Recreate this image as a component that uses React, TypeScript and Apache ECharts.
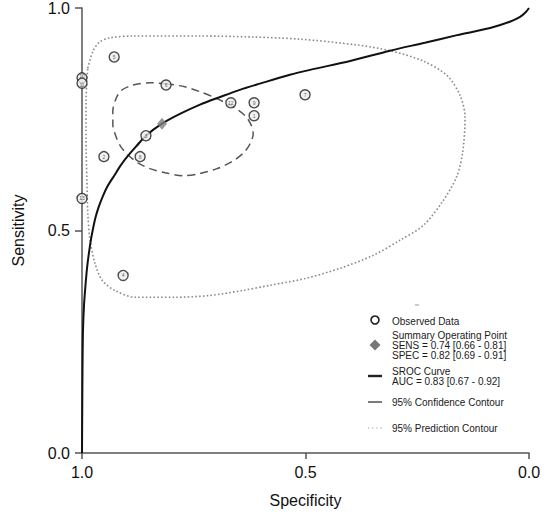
import React, { useEffect, useRef } from "react";
import * as echarts from "echarts";

// Observed study data: [specificity, sensitivity, study label]
const studySpec = [1.0, 1.0, 1.0, 0.928, 0.812, 0.951, 0.87, 0.857, 0.908, 0.667, 0.615, 0.615, 0.501];
const studySens = [0.843, 0.831, 0.572, 0.89, 0.827, 0.666, 0.666, 0.713, 0.399, 0.787, 0.787, 0.758, 0.805];
const studyLabels = ["10", "11", "13", "5", "6", "2", "8", "3", "4", "12", "9", "1", "7"];

// Summary operating point
const summarySpec = 0.821;
const summarySens = 0.74;

// SROC curve
const srocSpec = [1.0, 0.9996, 0.9989, 0.9978, 0.9955, 0.9922, 0.9888, 0.9843, 0.9799, 0.9754, 0.9698, 0.963, 0.953, 0.942, 0.928, 0.915, 0.897, 0.877, 0.857, 0.821, 0.781, 0.736, 0.691, 0.647, 0.602, 0.535, 0.49, 0.4, 0.311, 0.233, 0.161, 0.087, 0.043, 0.02, 0.007, 0.0];
const srocSens = [0.0, 0.074, 0.186, 0.276, 0.332, 0.377, 0.415, 0.451, 0.48, 0.504, 0.529, 0.552, 0.578, 0.601, 0.623, 0.644, 0.668, 0.691, 0.713, 0.74, 0.762, 0.783, 0.8, 0.816, 0.83, 0.85, 0.861, 0.881, 0.904, 0.922, 0.939, 0.955, 0.969, 0.98, 0.991, 1.0];

// 95% confidence contour
const confSpec = [0.812, 0.77, 0.736, 0.702, 0.662, 0.635, 0.622, 0.617, 0.624, 0.638, 0.664, 0.698, 0.736, 0.774, 0.814, 0.848, 0.875, 0.895, 0.913, 0.924, 0.931, 0.931, 0.924, 0.913, 0.886, 0.848, 0.812];
const confSens = [0.83, 0.823, 0.812, 0.798, 0.778, 0.758, 0.738, 0.717, 0.695, 0.675, 0.655, 0.639, 0.628, 0.623, 0.63, 0.639, 0.652, 0.668, 0.688, 0.711, 0.738, 0.769, 0.796, 0.814, 0.827, 0.832, 0.83];

// 95% prediction contour
const predSpec = [0.987, 0.975, 0.96, 0.937, 0.886, 0.736, 0.624, 0.512, 0.385, 0.311, 0.237, 0.183, 0.154, 0.143, 0.148, 0.161, 0.192, 0.237, 0.289, 0.349, 0.423, 0.501, 0.579, 0.642, 0.714, 0.792, 0.881, 0.926, 0.955, 0.971, 0.982, 0.987, 0.989, 0.991, 0.991, 0.989, 0.987];
const predSens = [0.865, 0.904, 0.924, 0.933, 0.937, 0.937, 0.935, 0.93, 0.917, 0.904, 0.881, 0.848, 0.803, 0.753, 0.679, 0.623, 0.567, 0.511, 0.478, 0.444, 0.415, 0.392, 0.377, 0.365, 0.354, 0.35, 0.35, 0.365, 0.388, 0.426, 0.478, 0.538, 0.612, 0.702, 0.791, 0.836, 0.865];

const tickLabels = ["0.0", "0.5", "1.0"];

const legendTexts = {
  observed: "Observed Data",
  summary: ["Summary Operating Point", "SENS = 0.74 [0.66 - 0.81]", "SPEC = 0.82 [0.69 - 0.91]"],
  sroc: ["SROC Curve", "AUC = 0.83 [0.67 - 0.92]"],
  conf: "95% Confidence Contour",
  pred: "95% Prediction Contour",
};

const FONT = "'Liberation Sans', Arial, Helvetica, sans-serif";

export default function App() {
  const ref = useRef<HTMLDivElement>(null);

  useEffect(() => {
    if (!ref.current) return;
    const chart = echarts.init(ref.current, undefined, { renderer: "svg" });
    const zip = (a: number[], b: number[]) => a.map((v, i) => [v, b[i]]);
    const fmt = (v: number) => tickLabels[Math.round(v * 2)] ?? v.toFixed(1);
    const lt = (x: number, y: number, text: string) => ({
      type: "text",
      x,
      y,
      style: { text, fontSize: 10, fontFamily: FONT, fill: "#1a1a1a", textVerticalAlign: "middle", textAlign: "left" },
    });

    chart.setOption({
      animation: false,
      backgroundColor: "#fff",
      grid: { left: 82, right: 21, top: 7, bottom: 61, containLabel: false },
      xAxis: {
        type: "value",
        inverse: true,
        min: 0,
        max: 1,
        interval: 0.5,
        name: "Specificity",
        nameLocation: "middle",
        nameGap: 39,
        nameTextStyle: { fontSize: 16, fontFamily: FONT, color: "#111" },
        axisLine: { show: true, onZero: false, lineStyle: { color: "#555", width: 1.5 } },
        axisTick: { show: true, length: 6, lineStyle: { color: "#555", width: 1.5 } },
        axisLabel: { fontSize: 16, fontFamily: FONT, color: "#111", margin: 11, formatter: fmt },
        splitLine: { show: false },
      },
      yAxis: {
        type: "value",
        min: 0,
        max: 1,
        interval: 0.5,
        name: "Sensitivity",
        nameLocation: "middle",
        nameGap: 56,
        nameTextStyle: { fontSize: 16, fontFamily: FONT, color: "#111" },
        axisLine: { show: true, onZero: false, lineStyle: { color: "#555", width: 1.5 } },
        axisTick: { show: true, length: 7, lineStyle: { color: "#555", width: 1.5 } },
        axisLabel: { fontSize: 16, fontFamily: FONT, color: "#111", margin: 12, formatter: fmt },
        splitLine: { show: false },
      },
      series: [
        {
          type: "line",
          data: zip(predSpec, predSens),
          smooth: 0.3,
          symbol: "none",
          lineStyle: { color: "#8a8a8a", width: 1.6, type: [1.6, 2.2] },
          z: 1,
        },
        {
          type: "line",
          data: zip(confSpec, confSens),
          smooth: 0.3,
          symbol: "none",
          lineStyle: { color: "#555", width: 1.5, type: [8, 5] },
          z: 2,
        },
        {
          type: "line",
          data: zip(srocSpec, srocSens),
          smooth: 0.3,
          symbol: "none",
          lineStyle: { color: "#111", width: 2 },
          z: 3,
        },
        {
          type: "scatter",
          data: studySpec.map((s, i) => ({
            value: [s, studySens[i]],
            name: studyLabels[i],
            label: i === 0 ? { offset: [0, -1.5] } : i === 1 ? { offset: [0, 1.5] } : undefined,
          })),
          symbol: "circle",
          symbolSize: 10,
          itemStyle: { color: "#eee", borderColor: "#222", borderWidth: 1.4 },
          label: {
            show: true,
            position: "inside",
            formatter: (p: any) => p.name,
            fontSize: 5,
            fontFamily: FONT,
            color: "#333",
          },
          z: 4,
        },
        {
          type: "scatter",
          data: [[summarySpec, summarySens]],
          symbol: "diamond",
          symbolSize: [10, 12],
          itemStyle: { color: "#808080" },
          z: 5,
        },
      ],
      graphic: [
        { type: "rect", shape: { x: 415, y: 304.5, width: 4, height: 1 }, style: { fill: "#999" } },
        { type: "circle", shape: { cx: 375, cy: 320, r: 4 }, style: { fill: "none", stroke: "#222", lineWidth: 1.6 } },
        lt(392, 321, legendTexts.observed),
        { type: "polygon", shape: { points: [[375, 339.5], [380.5, 345], [375, 350.5], [369.5, 345]] }, style: { fill: "#777" } },
        lt(392, 335, legendTexts.summary[0]),
        lt(392, 345, legendTexts.summary[1]),
        lt(392, 355, legendTexts.summary[2]),
        { type: "line", shape: { x1: 368, y1: 376, x2: 382, y2: 376 }, style: { stroke: "#222", lineWidth: 2.4 } },
        lt(392, 371, legendTexts.sroc[0]),
        lt(392, 381, legendTexts.sroc[1]),
        { type: "line", shape: { x1: 368, y1: 402, x2: 382, y2: 402 }, style: { stroke: "#333", lineWidth: 1.3 } },
        lt(392, 402, legendTexts.conf),
        { type: "line", shape: { x1: 368, y1: 428, x2: 382, y2: 428 }, style: { stroke: "#999", lineWidth: 1.2, lineDash: [1.2, 3] } },
        lt(392, 428, legendTexts.pred),
      ],
    });
    return () => chart.dispose();
  }, []);

  return <div ref={ref} style={{ width: 550, height: 514, position: "absolute", left: 0, top: 0 }} />;
}
